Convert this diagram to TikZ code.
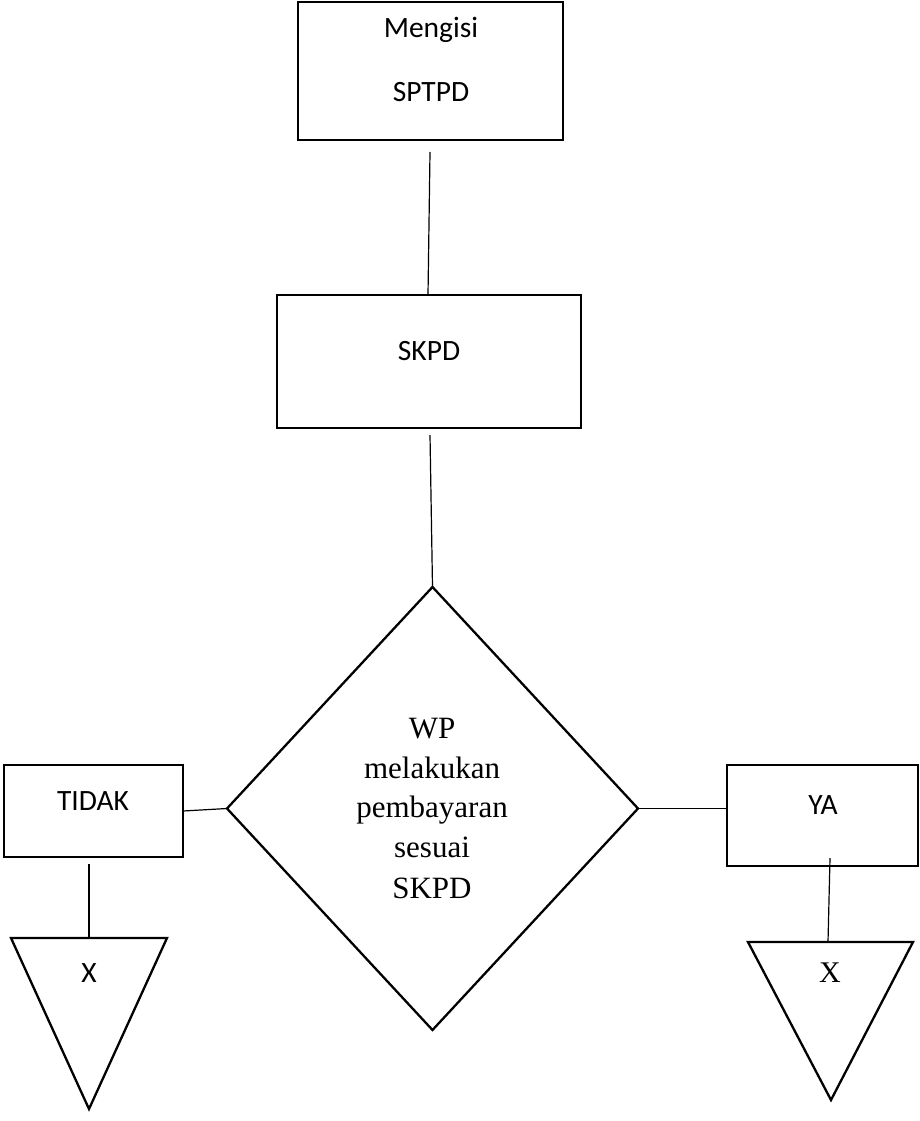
\documentclass[tikz,border=0pt]{standalone}
\usepackage{fontspec}
\setmainfont{Liberation Serif}
\newfontfamily\calib{Carlito}
\usetikzlibrary{shapes.geometric}

\tikzset{
  box/.style={draw, line width=2.3pt, rectangle, inner sep=0pt, outer sep=0pt},
  decision/.style={draw, line width=2.3pt, diamond, inner sep=0pt, outer sep=0pt},
  flag/.style={draw, line width=2.3pt, line join=miter},
  link/.style={draw, line width=1.2pt},
  sanslbl/.style={anchor=base, inner sep=0pt, font=\calib\fontsize{29.5}{35}\selectfont},
  seriflbl/.style={anchor=base, inner sep=0pt, font=\fontsize{31}{40}\selectfont},
}

\begin{document}
\begin{tikzpicture}[x=1pt, y=-1pt]
\useasboundingbox (0,0) rectangle (920,1121);

% process boxes
\node[box, minimum width=265pt, minimum height=138pt] (isi) at (430.5,71) {};
\node[box, minimum width=304pt, minimum height=133pt] (skpd) at (429,361.5) {};
\node[box, minimum width=179pt, minimum height=92pt] (tidak) at (93.5,811) {};
\node[box, minimum width=191pt, minimum height=101pt] (ya) at (822.5,815.5) {};

% decision
\node[decision, minimum width=411pt, minimum height=443pt] (wp) at (432.5,808.5) {};

% box labels
\node[sanslbl] (isi1) at (431,38) {Mengisi};
\node[sanslbl] (isi2) at (431,101.5) {SPTPD};
\node[sanslbl] (skpdlbl) at (429,360) {SKPD};
\node[sanslbl] (tidaklbl) at (93,810) {TIDAK};
\node[sanslbl] (yalbl) at (823,814) {YA};

% decision text
\node[seriflbl] (wp1) at (432,738) {WP};
\node[seriflbl] (wp2) at (432,778) {melakukan};
\node[seriflbl] (wp3) at (432,817) {pembayaran};
\node[seriflbl] (wp4) at (432,857) {sesuai};
\node[seriflbl] (wp5) at (432,898) {SKPD};

% off-page triangles
\coordinate (tl1) at (11,938);
\coordinate (tl2) at (167,938);
\coordinate (tl3) at (89,1109);
\coordinate (tltop) at (89,938);
\path[flag] (tl1) -- (tl2) -- (tl3) -- cycle;
\node[sanslbl] (xl) at (89,982) {X};

\coordinate (tr1) at (748,942);
\coordinate (tr2) at (913,942);
\coordinate (tr3) at (831,1100);
\coordinate (trtop) at (828,942);
\path[flag] (tr1) -- (tr2) -- (tr3) -- cycle;
\node[seriflbl, font=\fontsize{30}{36}\selectfont] (xr) at (830,982) {X};

% connector ends
\coordinate (c1a) at (430,152);
\coordinate (c1b) at (428,295);
\coordinate (c2a) at (430,435);
\coordinate (tlfoot) at (89,864);
\coordinate (yafoot) at (830,858);

% connectors
\path[link] (c1a) -- (c1b);
\path[link] (c2a) -- (wp.north);
\path[link] (tidak.east) -- (wp.west);
\path[link] (wp.east) -- (ya.west |- wp.east);
\path[link] (tlfoot) -- (tltop);
\path[link] (yafoot) -- (trtop);
\end{tikzpicture}
\end{document}
